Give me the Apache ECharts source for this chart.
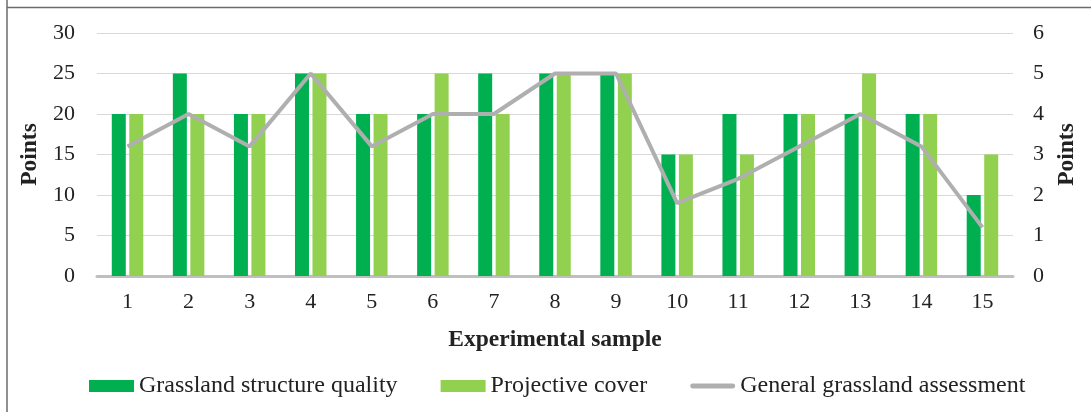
<!DOCTYPE html>
<html>
<head>
<meta charset="utf-8">
<script src="https://cdn.jsdelivr.net/npm/echarts@6/dist/echarts.min.js"></script>
<style>
html,body{margin:0;padding:0;background:#fff;}
#c{width:1091px;height:412px;}
</style>
</head>
<body>
<div id="c"></div>
<script>
var categories = ['1','2','3','4','5','6','7','8','9','10','11','12','13','14','15'];
var structureQuality = [20,25,20,25,20,20,25,25,25,15,20,20,20,20,10];
var projectiveCover = [20,20,20,25,20,25,20,25,25,15,15,20,25,20,15];
var generalAssessment = [3.2,4,3.2,5,3.2,4,4,5,5,1.8,2.4,3.2,4,3.2,1.2];
var leftTicks = [0,30,5];
var rightTicks = [0,6,1];

var F = '"Liberation Serif","Times New Roman",serif';
var chart = echarts.init(document.getElementById('c'));
chart.setOption({
  animation:false,
  backgroundColor:'#fff',
  graphic:[
    {type:'line',shape:{x1:7,y1:0,x2:7,y2:412},style:{stroke:'#6b6b6b',lineWidth:1.5}},
    {type:'line',shape:{x1:7,y1:7.5,x2:1091,y2:7.5},style:{stroke:'#6b6b6b',lineWidth:1.5}}
  ],
  grid:{left:97,right:78,top:33,bottom:136},
  legend:{
    top:369,left:84,
    itemWidth:45,itemHeight:12,itemGap:43,
    textStyle:{fontFamily:F,fontSize:24,color:'#222',padding:[0,0,0,0]},
    data:[
      {name:'Grassland structure quality',icon:'rect'},
      {name:'Projective cover',icon:'rect'},
      {name:'General grassland assessment',icon:'path://M2.5,0 H44.5 A2.5,2.5 0 0 1 44.5,5 H2.5 A2.5,2.5 0 0 1 2.5,0 Z',
       itemStyle:{color:'#AFAFAF'}}
    ]
  },
  xAxis:{
    type:'category',data:categories,
    name:'Experimental sample',nameLocation:'middle',nameGap:52,
    nameTextStyle:{fontFamily:F,fontSize:23.5,fontWeight:'bold',color:'#222'},
    axisLine:{lineStyle:{color:'#BFBFBF',width:3}},
    axisTick:{show:false},
    axisLabel:{fontFamily:F,fontSize:22,color:'#222',margin:15}
  },
  yAxis:[
    {type:'value',min:leftTicks[0],max:leftTicks[1],interval:leftTicks[2],
     name:'Points',nameLocation:'middle',nameGap:53,nameRotate:90,
     nameTextStyle:{fontFamily:F,fontSize:23.5,fontWeight:'bold',color:'#222'},
     axisLine:{show:false},axisTick:{show:false},
     axisLabel:{fontFamily:F,fontSize:22,color:'#222',margin:22},
     splitLine:{lineStyle:{color:'#D9D9D9',width:1}}},
    {type:'value',min:rightTicks[0],max:rightTicks[1],interval:rightTicks[2],
     name:'Points',nameLocation:'middle',nameGap:41,nameRotate:90,
     nameTextStyle:{fontFamily:F,fontSize:23.5,fontWeight:'bold',color:'#222'},
     axisLine:{show:false},axisTick:{show:false},
     axisLabel:{fontFamily:F,fontSize:22,color:'#222',margin:20},
     splitLine:{show:false}}
  ],
  series:[
    {name:'Grassland structure quality',type:'bar',data:structureQuality,
     barWidth:14,barGap:'25%',itemStyle:{color:'#00B050'}},
    {name:'Projective cover',type:'bar',data:projectiveCover,
     barWidth:14,itemStyle:{color:'#92D050'}},
    {name:'General grassland assessment',type:'line',yAxisIndex:1,data:generalAssessment,
     symbol:'none',lineStyle:{color:'#AFAFAF',width:4},itemStyle:{color:'#AFAFAF'}}
  ]
});
</script>
</body>
</html>
